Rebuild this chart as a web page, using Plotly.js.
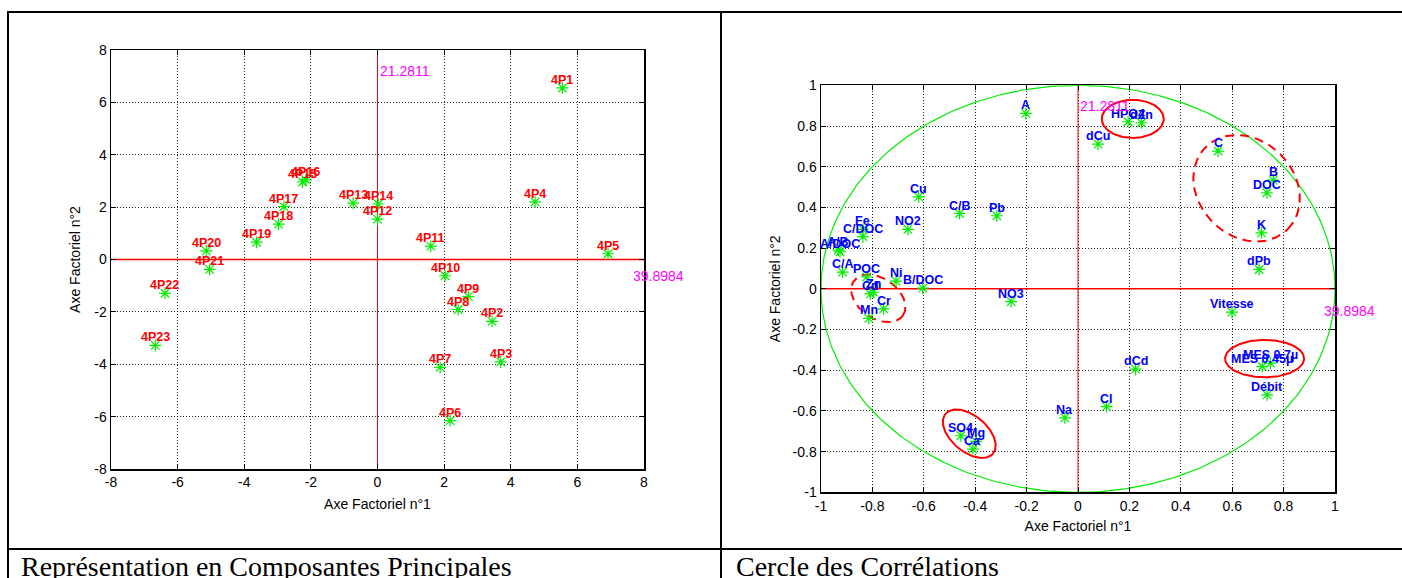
<!DOCTYPE html>
<html><head><meta charset="utf-8">
<script src="https://cdn.plot.ly/plotly-3.0.1.min.js"></script>
<style>html,body{margin:0;padding:0;background:#fff;}#chart{width:1402px;height:578px;}</style>
</head><body><div id="chart"></div>
<script>
// ---- data: principal component scores (left) ----
const pcaLabels = ['4P1','4P2','4P3','4P4','4P5','4P6','4P7','4P8','4P9','4P10','4P11','4P12',
  '4P13','4P14','4P15','4P16','4P17','4P18','4P19','4P20','4P21','4P22','4P23'];
const pcaX = [5.55, 3.44, 3.70, 4.73, 6.92, 2.18, 1.88, 2.42, 2.73, 2.03, 1.60, 0.00,
  -0.73, 0.02, -2.25, -2.15, -2.81, -2.97, -3.63, -5.14, -5.04, -6.38, -6.67];
const pcaY = [6.55, -2.36, -3.91, 2.20, 0.22, -6.15, -4.12, -1.91, -1.42, -0.62, 0.51, 1.54,
  2.15, 2.12, 2.96, 3.04, 2.02, 1.35, 0.66, 0.33, -0.38, -1.29, -3.28];

// ---- data: correlation circle (right) ----
const corrLabels = ['A','HPO4','dZn','dCu','C','B','DOC','Cu','C/B','Pb','NO2','Fe','C/DOC','K',
  'A/B','A/DOC','dPb','C/A','POC','Ni','B/DOC','Cd','Zn','NO3','Cr','Vitesse','Mn',
  'MES 0.7µ','MES 0.45µ','dCd','Débit','Cl','Na','SO4','Mg','Ca'];
const corrX = [-0.203, 0.195, 0.247, 0.078, 0.545, 0.760, 0.735, -0.620, -0.461, -0.316, -0.662, -0.837, -0.837, 0.714,
  -0.932, -0.926, 0.705, -0.916, -0.822, -0.708, -0.604, -0.808, -0.796, -0.260, -0.756, 0.599, -0.814,
  0.749, 0.717, 0.224, 0.736, 0.111, -0.051, -0.456, -0.396, -0.409];
const corrY = [0.862, 0.821, 0.816, 0.711, 0.677, 0.534, 0.472, 0.452, 0.370, 0.359, 0.292, 0.292, 0.256, 0.275,
  0.190, 0.182, 0.095, 0.082, 0.058, 0.038, 0.003, -0.025, -0.017, -0.063, -0.099, -0.115, -0.145,
  -0.365, -0.382, -0.395, -0.521, -0.579, -0.634, -0.722, -0.750, -0.788];

// ---- ticks & texts ----
const leftRange = [-8, 8];
const rightRange = [-1, 1];
const leftTickVals = [-8, -6, -4, -2, 0, 2, 4, 6, 8];
const leftTickText = ['-8', '-6', '-4', '-2', '0', '2', '4', '6', '8'];
const rightTickVals = [-1, -0.8, -0.6, -0.4, -0.2, 0, 0.2, 0.4, 0.6, 0.8, 1];
const rightTickText = ['-1', '-0.8', '-0.6', '-0.4', '-0.2', '0', '0.2', '0.4', '0.6', '0.8', '1'];
const axisTitleX = 'Axe Factoriel n°1';
const axisTitleY = 'Axe Factoriel n°2';
const inertiaAxis1 = '39.8984';
const inertiaAxis2 = '21.2811';
const captions = ['Représentation en Composantes Principales', 'Cercle des Corrélations'];

// ---- layout helpers (pixel geometry) ----
const W = 1402, H = 578;
const fx = p => p / W, fy = p => 1 - p / H;
const L = {x0: 111, x1: 644, y0: 50, y1: 469};
const R = {x0: 821, x1: 1335, y0: 85.3, y1: 492.3};
const kx2 = (R.x1 - R.x0) / (rightRange[1] - rightRange[0]);
const ky2 = (R.y1 - R.y0) / (rightRange[1] - rightRange[0]);

// ellipses drawn on the correlation circle (centre in data units, semi-axes in px, rotation deg)
const ellipses = [
  {cx: 0.213, cy: 0.835, a: 31, b: 19, rot: 0, dash: 'solid'},
  {cx: 0.656, cy: 0.494, a: 58, b: 48, rot: -45, dash: '9px,6px'},
  {cx: 0.726, cy: -0.343, a: 39.5, b: 18.7, rot: 0, dash: 'solid'},
  {cx: -0.777, cy: -0.047, a: 30, b: 20, rot: -35, dash: '9px,6px'},
  {cx: -0.423, cy: -0.712, a: 31, b: 18, rot: -40, dash: 'solid'}
];

const FONT = 'Liberation Sans, Arial, Helvetica, sans-serif';
const traces = [];

// red reference lines
traces.push({x: leftRange, y: [0, 0], xaxis: 'x', yaxis: 'y', mode: 'lines', line: {color: '#ff0000', width: 1.6}, hoverinfo: 'skip', showlegend: false});
traces.push({x: [0, 0], y: leftRange, xaxis: 'x', yaxis: 'y', mode: 'lines', line: {color: '#ff0000', width: 1}, hoverinfo: 'skip', showlegend: false});
traces.push({x: rightRange, y: [0, 0], xaxis: 'x2', yaxis: 'y2', mode: 'lines', line: {color: '#ff0000', width: 1.6}, hoverinfo: 'skip', showlegend: false});
traces.push({x: [0, 0], y: rightRange, xaxis: 'x2', yaxis: 'y2', mode: 'lines', line: {color: '#ff0000', width: 1}, hoverinfo: 'skip', showlegend: false});

// unit circle
const cxs = [], cys = [];
for (let i = 0; i <= 360; i++) { const t = i * Math.PI / 180; cxs.push(Math.cos(t)); cys.push(Math.sin(t)); }
traces.push({x: cxs, y: cys, xaxis: 'x2', yaxis: 'y2', mode: 'lines', line: {color: '#00ee00', width: 1.2}, hoverinfo: 'skip', showlegend: false});

// ellipses
ellipses.forEach(e => {
  const xs = [], ys = [], th = e.rot * Math.PI / 180;
  for (let i = 0; i <= 160; i++) {
    const t = 2 * Math.PI * i / 160;
    const u = e.a * Math.cos(t), v = e.b * Math.sin(t);
    xs.push(e.cx + (u * Math.cos(th) - v * Math.sin(th)) / kx2);
    ys.push(e.cy + (u * Math.sin(th) + v * Math.cos(th)) / ky2);
  }
  traces.push({x: xs, y: ys, xaxis: 'x2', yaxis: 'y2', mode: 'lines', line: {color: '#ff0000', width: 2, dash: e.dash}, hoverinfo: 'skip', showlegend: false});
});

// markers
const star = {symbol: 'asterisk-open', size: 10, color: '#00ee00', line: {color: '#00ee00', width: 1.2}};
traces.push({x: pcaX, y: pcaY, text: pcaLabels, xaxis: 'x', yaxis: 'y', mode: 'markers', marker: star, hoverinfo: 'text', showlegend: false, cliponaxis: false});
traces.push({x: corrX, y: corrY, text: corrLabels, xaxis: 'x2', yaxis: 'y2', mode: 'markers', marker: star, hoverinfo: 'text', showlegend: false, cliponaxis: false});

// annotations
const annotations = [];
pcaLabels.forEach((t, i) => annotations.push({xref: 'x', yref: 'y', x: pcaX[i], y: pcaY[i], text: t, showarrow: false,
  xanchor: 'center', yanchor: 'bottom', yshift: -1, font: {family: FONT, size: 12.5, color: '#ff0000', weight: 'bold'}}));
corrLabels.forEach((t, i) => annotations.push({xref: 'x2', yref: 'y2', x: corrX[i], y: corrY[i], text: t, showarrow: false,
  xanchor: 'center', yanchor: 'bottom', yshift: -1, font: {family: FONT, size: 12.5, color: '#0000ff', weight: 'bold'}}));
const magenta = {family: FONT, size: 14, color: '#ff00ff'};
annotations.push({xref: 'x', yref: 'y', x: 0, y: 0.9 * leftRange[1], text: inertiaAxis2, showarrow: false, xanchor: 'left', yanchor: 'middle', font: magenta});
annotations.push({xref: 'x', yref: 'y', x: 0.95 * leftRange[1], y: -0.62, text: inertiaAxis1, showarrow: false, xanchor: 'left', yanchor: 'middle', font: magenta});
annotations.push({xref: 'x2', yref: 'y2', x: 0, y: 0.9 * rightRange[1], text: inertiaAxis2, showarrow: false, xanchor: 'left', yanchor: 'middle', font: magenta});
annotations.push({xref: 'x2', yref: 'y2', x: 0.95 * rightRange[1], y: -0.108, text: inertiaAxis1, showarrow: false, xanchor: 'left', yanchor: 'middle', font: magenta});
const capFont = {family: 'Liberation Serif, Times New Roman, serif', size: 28, color: '#000'};
annotations.push({xref: 'paper', yref: 'paper', x: fx(19), y: fy(566), text: captions[0], showarrow: false, xanchor: 'left', yanchor: 'middle', font: capFont});
annotations.push({xref: 'paper', yref: 'paper', x: fx(734), y: fy(566), text: captions[1], showarrow: false, xanchor: 'left', yanchor: 'middle', font: capFont});

// table borders
const bl = {color: '#000', width: 2};
const shapes = [
  {type: 'line', xref: 'paper', yref: 'paper', x0: fx(7), x1: 1, y0: fy(12), y1: fy(12), line: bl},
  {type: 'line', xref: 'paper', yref: 'paper', x0: fx(8), x1: fx(8), y0: fy(11), y1: 0, line: bl},
  {type: 'line', xref: 'paper', yref: 'paper', x0: fx(721), x1: fx(721), y0: fy(11), y1: 0, line: bl},
  {type: 'line', xref: 'paper', yref: 'paper', x0: fx(7), x1: 1, y0: fy(549), y1: fy(549), line: bl}
];

function axis(domain, range, tv, tt, title, anchor, standoff) {
  return {domain, range, anchor, tickmode: 'array', tickvals: tv, ticktext: tt,
    ticks: 'inside', ticklen: 5, tickwidth: 1, tickcolor: '#000',
    showline: true, linecolor: '#000', linewidth: 1.5, mirror: 'ticks',
    showgrid: true, gridcolor: '#222', gridwidth: 1, griddash: '1px,2px', zeroline: false,
    tickfont: {family: FONT, size: 14, color: '#000'},
    title: {text: title, font: {family: FONT, size: 14, color: '#000'}, standoff},
    fixedrange: true, automargin: false};
}

const layout = {
  width: W, height: H, margin: {l: 0, r: 0, t: 0, b: 0}, paper_bgcolor: '#fff', plot_bgcolor: '#fff',
  showlegend: false,
  xaxis: axis([fx(L.x0), fx(L.x1)], leftRange, leftTickVals, leftTickText, axisTitleX, 'y', 10),
  yaxis: axis([fy(L.y1), fy(L.y0)], leftRange, leftTickVals, leftTickText, axisTitleY, 'x', 10),
  xaxis2: axis([fx(R.x0), fx(R.x1)], rightRange, rightTickVals, rightTickText, axisTitleX, 'y2', 8),
  yaxis2: axis([fy(R.y1), fy(R.y0)], rightRange, rightTickVals, rightTickText, axisTitleY, 'x2', 8),
  annotations, shapes
};

Plotly.newPlot('chart', traces, layout, {staticPlot: true, displayModeBar: false});
</script></body></html>
